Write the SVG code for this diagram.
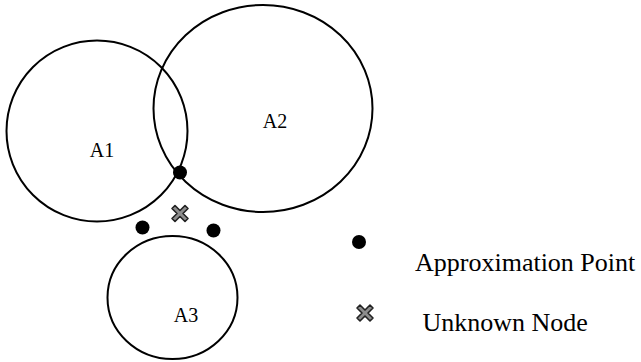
<svg xmlns="http://www.w3.org/2000/svg" xmlns:xlink="http://www.w3.org/1999/xlink" width="641" height="362" viewBox="0 0 641 362">
  <style>
    .anchor { fill: none; stroke: #000; stroke-width: 2; }
    .label { font-family: "Liberation Serif", "Times New Roman", serif; font-size: 20px; fill: #000; }
    .legend { font-family: "Liberation Serif", "Times New Roman", serif; font-size: 26px; fill: #000; }
    .pt { fill: #000; }
    .unk { fill: #8c8c8c; stroke: #222; stroke-width: 1.6; stroke-linejoin: round; }
  </style>
  <defs>
    <!-- cross marker for the unknown node -->
    <polygon id="xmark" points="-8,-5 -5,-8 0,-3 5,-8 8,-5 3,0 8,5 5,8 0,3 -5,8 -8,5 -3,0"/>
  </defs>
  <rect width="641" height="362" fill="#fff"/>

  <g id="anchor-A1">
    <circle class="anchor" cx="97" cy="131" r="90.5"/>
    <text class="label" x="102" y="157" text-anchor="middle">A1</text>
  </g>
  <g id="anchor-A2">
    <ellipse class="anchor" cx="263" cy="108.5" rx="109.5" ry="103.5"/>
    <text class="label" x="275" y="128" text-anchor="middle">A2</text>
  </g>
  <g id="anchor-A3">
    <ellipse class="anchor" cx="172.5" cy="297.5" rx="65" ry="61.5"/>
    <text class="label" x="186" y="321.5" text-anchor="middle">A3</text>
  </g>

  <g id="approx-points">
    <circle class="pt" cx="180" cy="172.5" r="7"/>
    <circle class="pt" cx="142.5" cy="227.5" r="7"/>
    <circle class="pt" cx="213.5" cy="230.5" r="7"/>
  </g>
  <g id="unknown-node">
    <use xlink:href="#xmark" class="unk" transform="translate(180,213.5)"/>
  </g>

  <g id="legend">
    <circle class="pt" cx="359" cy="242" r="7"/>
    <text class="legend" x="415" y="270.5">Approximation Point</text>
    <use xlink:href="#xmark" class="unk" transform="translate(365,313)"/>
    <text class="legend" x="422.5" y="330.5">Unknown Node</text>
  </g>
</svg>
